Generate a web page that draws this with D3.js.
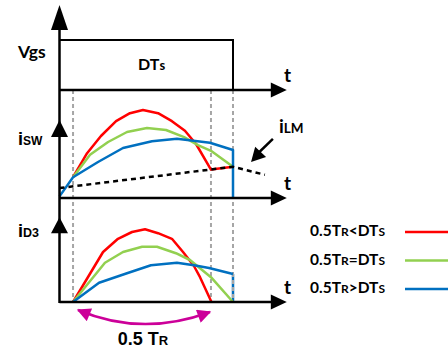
<!DOCTYPE html>
<html>
<head>
<meta charset="utf-8">
<script src="https://cdn.jsdelivr.net/npm/d3@7"></script>
<style>
  body { margin: 0; background: #fff; }
  text { font-family: Lato, "Open Sans", sans-serif; font-weight: bold; fill: #000; }
  .arial { font-family: "Liberation Sans", Arial, sans-serif; }
</style>
</head>
<body>
<div id="chart"></div>
<script>
// time axis in % of DTs, currents in arbitrary units
var marks = [7.8, 87.3, 100];   // resonance start, end of 0.5TR, DTs
var tEnd = 131;
var vgsPulse = [[0, 1], [100, 1], [100, 0]];

var iLM = [[0, 1.25], [100, 3.9], [118.4, 2.9]];

var iswRed = [[7.8, 2.6], [15.9, 5.6], [23.9, 7.75], [32.6, 9.6], [40.6, 10.6], [48.1, 11.0],
  [56.8, 10.6], [64.8, 9.6], [72.3, 8.4], [78.7, 6.75], [87.3, 3.55], [100, 3.9]];
var iswGreen = [[7.8, 2.6], [17.6, 5.4], [28, 7.0], [38.9, 8.25], [50.4, 8.75], [61.4, 8.5],
  [71.8, 7.6], [79.8, 6.6], [87.3, 5.9], [100, 3.9]];
var iswBlue = [[0, 0.2], [7.8, 2.6], [22.2, 4.5], [36.6, 6.25], [53.3, 7.1], [67.7, 7.4],
  [86.7, 6.9], [100, 6.0], [100, 0]];

var id3Red = [[7.8, 0], [25.1, 6.25], [33.7, 7.9], [41.8, 8.75], [49.3, 9.1], [56.8, 8.6],
  [64.8, 7.9], [71.2, 6.25], [77.5, 4.5], [81, 3.1], [87.6, 0]];
var id3Green = [[7.8, 0], [26.2, 4.9], [36.6, 6.25], [47.6, 6.9], [56.2, 6.9], [67.1, 6.1],
  [75.2, 5.25], [87.3, 3.1], [100, 0]];
var id3Blue = [[7.8, 0], [22.8, 2.4], [38.9, 3.6], [52.7, 4.6], [67.7, 4.9], [77.5, 4.6],
  [86.2, 4.25], [100, 3.5]];
var id3BlueDrop = [[100, 3.5], [100, 0]];

var legendLabels = ["<", "=", ">"];
var colors = ["#ff0000", "#92d050", "#0070c0"];

var width = 448, height = 350;

var x = d3.scaleLinear().domain([0, 100]).range([59.5, 233]);
var yV = d3.scaleLinear().domain([0, 1]).range([90, 40]);
var yS = d3.scaleLinear().domain([0, 10]).range([198, 118]);
var yD = d3.scaleLinear().domain([0, 10]).range([302, 222]);

var svg = d3.select("#chart").append("svg")
    .attr("width", width)
    .attr("height", height);

var defs = svg.append("defs");
defs.append("marker").attr("id", "mag")
    .attr("viewBox", "0 0 10 10").attr("refX", 9).attr("refY", 5)
    .attr("markerWidth", 6).attr("markerHeight", 5.5)
    .attr("markerUnits", "strokeWidth")
    .attr("orient", "auto-start-reverse")
  .append("path").attr("d", "M0,0L10,5L0,10z").attr("fill", "#cc0099");

function line(ys) {
  return d3.line().x(function(d) { return x(d[0]); }).y(function(d) { return ys(d[1]); });
}

// arrow head as filled triangle, tip at (tx,ty)
function head(tx, ty, dir, len, w) {
  var p;
  if (dir == "up") p = [[tx, ty], [tx - w / 2, ty + len], [tx + w / 2, ty + len]];
  else p = [[tx, ty], [tx - len, ty - w / 2], [tx - len, ty + w / 2]];
  svg.append("path").attr("d", "M" + p.join("L") + "Z").attr("fill", "#000");
}

// gray guide lines
marks.forEach(function(m) {
  svg.append("line")
      .attr("x1", x(m)).attr("x2", x(m))
      .attr("y1", yV(0)).attr("y2", yD(0))
      .attr("stroke", "#a6a6a6").attr("stroke-width", 2)
      .attr("stroke-dasharray", "4,3");
});

// Vgs pulse
svg.append("path").datum(vgsPulse)
    .attr("d", line(yV))
    .attr("fill", "none").attr("stroke", "#000").attr("stroke-width", 2);

// switch current
[iswRed, iswGreen, iswBlue].forEach(function(s, i) {
  svg.append("path").datum(s)
      .attr("d", line(yS))
      .attr("fill", "none").attr("stroke", colors[i]).attr("stroke-width", 2.5)
      .attr("stroke-linejoin", "round");
});
svg.append("path").datum(iLM)
    .attr("d", line(yS))
    .attr("fill", "none").attr("stroke", "#000").attr("stroke-width", 2.5)
    .attr("stroke-dasharray", "5,4");

// diode current
svg.append("path").datum(id3BlueDrop)
    .attr("d", line(yD))
    .attr("fill", "none").attr("stroke", colors[2]).attr("stroke-width", 2.5);
svg.append("line")
    .attr("x1", x(100)).attr("x2", x(100))
    .attr("y1", yD(3.5)).attr("y2", yD(0))
    .attr("stroke", "#a6a6a6").attr("stroke-width", 2)
    .attr("stroke-dasharray", "4,3").attr("stroke-dashoffset", 1);
[id3Red, id3Green, id3Blue].forEach(function(s, i) {
  svg.append("path").datum(s)
      .attr("d", line(yD))
      .attr("fill", "none").attr("stroke", colors[i]).attr("stroke-width", 2.5)
      .attr("stroke-linejoin", "round");
});

// axes
svg.append("line")
    .attr("x1", x(0)).attr("x2", x(0))
    .attr("y1", yD(0) + 1).attr("y2", yV(1.6))
    .attr("stroke", "#000").attr("stroke-width", 2.5);
[yV, yS, yD].forEach(function(ys) {
  svg.append("line")
      .attr("x1", x(0)).attr("x2", x(tEnd) - 10)
      .attr("y1", ys(0)).attr("y2", ys(0))
      .attr("stroke", "#000").attr("stroke-width", 2.5);
  head(x(tEnd), ys(0), "right", 16, 15);
});
head(x(0), yV(1.7), "up", 25, 17);
head(x(0), yS(9.75), "up", 17, 17);
head(x(0), yD(10.6), "up", 16, 17);

// iLM pointer
svg.append("line")
    .attr("x1", x(123)).attr("y1", yS(7.4))
    .attr("x2", x(114)).attr("y2", yS(5.5))
    .attr("stroke", "#000").attr("stroke-width", 2.5);
(function() {
  var tx = x(110.4), ty = yS(4.5), bx = x(123), by = yS(7.4);
  var a = Math.atan2(ty - by, tx - bx), len = 14, w = 7.5;
  var p = [[tx, ty],
    [tx - len * Math.cos(a) + w * Math.sin(a), ty - len * Math.sin(a) - w * Math.cos(a)],
    [tx - len * Math.cos(a) - w * Math.sin(a), ty - len * Math.sin(a) + w * Math.cos(a)]];
  svg.append("path").attr("d", "M" + p.join("L") + "Z").attr("fill", "#000");
})();

// 0.5 TR span
var p = d3.path();
p.moveTo(x(10.7), yD(-1));
p.quadraticCurveTo(x(47.5), yD(-4.4), x(86.7), yD(-1.25));
svg.append("path").attr("d", p.toString())
    .attr("fill", "none").attr("stroke", "#cc0099").attr("stroke-width", 2.5)
    .attr("marker-start", "url(#mag)").attr("marker-end", "url(#mag)");

// labels
svg.append("text").attr("x", 18).attr("y", 58).style("font-size", "17.5px").text("Vgs");
var dts = svg.append("text").attr("x", 138).attr("y", 70).style("font-size", "16px");
dts.append("tspan").text("DT");
dts.append("tspan").style("font-size", "13px").text("s");

[yV, yS, yD].forEach(function(ys) {
  svg.append("text").attr("x", 284).attr("y", ys(0) - 8).style("font-size", "19px").text("t");
});

function sub(xp, yp, big, small, cls, bs, ss) {
  var t = svg.append("text").attr("x", xp).attr("y", yp).attr("class", cls || null);
  t.append("tspan").style("font-size", bs + "px").text(big);
  t.append("tspan").style("font-size", ss + "px").text(small);
  return t;
}
sub(18, 145, "i", "SW", "arial", 18, 12);
sub(18, 237, "i", "D3", "arial", 18, 12.5);
sub(279, 133, "i", "LM", null, 19, 13.5);

var tr = svg.append("text").attr("class", "arial").attr("x", 143).attr("y", 345)
    .attr("text-anchor", "middle");
tr.append("tspan").style("font-size", "18px").text("0.5 T");
tr.append("tspan").style("font-size", "13px").text("R");

// legend
legendLabels.forEach(function(l, i) {
  var yy = 232 + i * 28.5;
  var t = svg.append("text").attr("x", 310).attr("y", yy + 4).style("font-size", "15.5px");
  t.append("tspan").text("0.5T");
  t.append("tspan").style("font-size", "12px").text("R");
  t.append("tspan").text(l + "DT");
  t.append("tspan").style("font-size", "12px").text("S");
  svg.append("line").attr("x1", 405).attr("x2", 448).attr("y1", yy).attr("y2", yy)
      .attr("stroke", colors[i]).attr("stroke-width", 2.5);
});
</script>
</body>
</html>
